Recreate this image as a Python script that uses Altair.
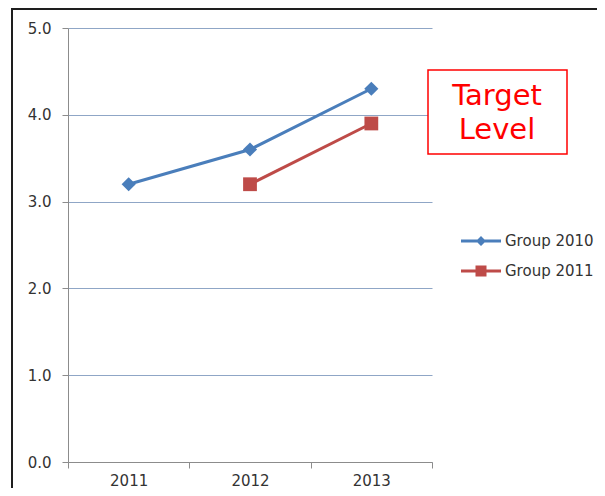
import altair as alt
import pandas as pd

# ---- data ----
years = ["2011", "2012", "2013"]
series_names = ["Group 2010", "Group 2011"]
group_2010 = [3.2, 3.6, 4.3]
group_2011 = [None, 3.2, 3.9]
y_ticks = [0, 1, 2, 3, 4, 5]
annotation_lines = ["Target", "Level"]
series_colors = ["#4A7EBB", "#BE4B48"]

rows = []
for name, vals in zip(series_names, [group_2010, group_2011]):
    for yr, v in zip(years, vals):
        if v is not None:
            rows.append({"year": yr, "value": v, "series": name})
df = pd.DataFrame(rows)
one = pd.DataFrame({"k": [0]})

FONT = "DejaVu Sans"

# legend symbols: line segment with a marker (custom SVG paths)
path_diamond = "M-2,-0.15H-0.35L0,-0.5L0.35,-0.15H2V0.15H0.35L0,0.5L-0.35,0.15H-2Z"
path_square = "M-2,-0.15H-0.55V-0.55H0.55V-0.15H2V0.15H0.55V0.55H-0.55V0.15H-2Z"

x_enc = alt.X(
    "year:O",
    scale=alt.Scale(type="band", domain=years, paddingInner=0, paddingOuter=0),
    axis=alt.Axis(
        title=None, labelAngle=0, tickBand="extent", labelFontSize=15,
        labelColor="#333333", labelPadding=5, tickSize=6, tickColor="#8C8C8C",
        domainColor="#8C8C8C", grid=False, labelFont=FONT,
    ),
)
y_enc = alt.Y(
    "value:Q",
    scale=alt.Scale(domain=[0, 5], nice=False),
    axis=alt.Axis(
        title=None, values=y_ticks, format=".1f", labelFontSize=15,
        labelColor="#333333", labelPadding=11, tickSize=6, tickColor="#8C8C8C",
        domainColor="#8C8C8C", gridColor="#8FA6C6", gridWidth=1, labelFont=FONT,
    ),
)
color_scale = alt.Scale(domain=series_names, range=series_colors)

legend_def = alt.Legend(
    title=None, orient="none", legendX=403, legendY=203, padding=0,
    rowPadding=12, labelOffset=14, labelFontSize=15, labelColor="#333333",
    labelFont=FONT, symbolSize=400, symbolStrokeWidth=0,
)

base = alt.Chart(df)

# legend-only layer (no marks drawn), placed first so its legend settings win
legend_layer = base.transform_filter("false").mark_point(filled=True, opacity=1).encode(
    x=x_enc,
    y=y_enc,
    color=alt.Color("series:N", scale=color_scale, legend=legend_def),
    shape=alt.Shape(
        "series:N",
        scale=alt.Scale(domain=series_names, range=[path_diamond, path_square]),
        legend=legend_def,
    ),
)

lines = base.mark_line(strokeWidth=3).encode(
    x=x_enc, y=y_enc, color=alt.Color("series:N", scale=color_scale)
)
diamonds = base.transform_filter(alt.datum.series == series_names[0]).mark_point(
    shape="diamond", filled=True, size=200, opacity=1
).encode(x=x_enc, y=y_enc, color=alt.Color("series:N", scale=color_scale))
squares = base.transform_filter(alt.datum.series == series_names[1]).mark_point(
    shape="square", filled=True, size=190, opacity=1
).encode(x=x_enc, y=y_enc, color=alt.Color("series:N", scale=color_scale))

frame = alt.Chart(one).mark_rect(stroke="#1E1E1E", strokeWidth=2, fillOpacity=0).encode(
    x=alt.value(-56), x2=alt.value(700), y=alt.value(-19), y2=alt.value(700)
)

box = alt.Chart(one).mark_rect(stroke="#FF0000", strokeWidth=1.5, fill="white").encode(
    x=alt.value(360), x2=alt.value(499), y=alt.value(42), y2=alt.value(126)
)
txt1 = alt.Chart(one).mark_text(
    fontSize=29, color="#FF0000", font=FONT, align="center", baseline="alphabetic"
).encode(x=alt.value(429), y=alt.value(77), text=alt.value(annotation_lines[0]))
txt2 = alt.Chart(one).mark_text(
    fontSize=29, color="#FF0000", font=FONT, align="center", baseline="alphabetic"
).encode(x=alt.value(429), y=alt.value(111), text=alt.value(annotation_lines[1]))

chart = (
    alt.layer(legend_layer, frame, lines, diamonds, squares, box, txt1, txt2)
    .properties(
        width=364,
        height=434,
        autosize="none",
        padding={"left": 60, "top": 20, "right": 165, "bottom": 26},
    )
    .configure(font=FONT)
    .configure_view(strokeWidth=0)
)

chart.save("out.html", embed_options={"renderer": "svg", "actions": False})
